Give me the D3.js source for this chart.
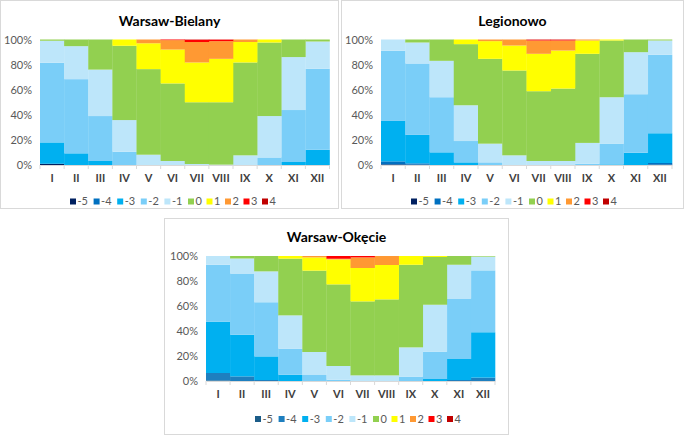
<!DOCTYPE html>
<html><head><meta charset="utf-8">
<script src="https://cdn.jsdelivr.net/npm/d3@7/dist/d3.min.js"></script>
<style>
html,body{margin:0;padding:0;background:#fff;}
svg{display:block;font-family:Lato,"Open Sans",sans-serif;}
</style></head><body>
<svg id="c" width="684" height="436"></svg>
<script>
const months = ["I","II","III","IV","V","VI","VII","VIII","IX","X","XI","XII"];
const classes = ["-5","-4","-3","-2","-1","0","1","2","3","4"];
const yTicks = [0,0.2,0.4,0.6,0.8,1];
const colorsA = ["#002060","#0070C0","#00B0F0","#7ACEF8","#BDE6FA","#92D050","#FFFF00","#FF9933","#FF0000","#C00000"];
const colorsB = ["#1B5C88","#1E7FBF","#00B0F0","#7ACEF8","#BDE6FA","#92D050","#FFFF00","#FF9933","#FF0000","#C00000"];
// rows: months, columns: classes -5..4 (percent)
const bielany = [
 [1,0,17,63.5,17.5,1,0,0,0,0],
 [0,0,9.3,59.1,26.3,5.3,0,0,0,0],
 [0,0,3.2,35.8,37,24,0,0,0,0],
 [0,0,0,10.6,25.2,59.2,5,0,0,0],
 [0,0,0,0,8.2,68.2,20.6,3,0,0],
 [0,0,0,0,3.2,61.8,27,7.5,0.5,0],
 [0,0,0,0,0.8,49.2,31.7,16.3,1.8,0.2],
 [0,0,0,0,0.3,49.7,34.6,14.1,1.2,0.1],
 [0,0,0,0,7.7,74,16.3,2,0,0],
 [0,0,0,6,33,58.6,2.4,0,0,0],
 [0,0,2.4,41.4,42.2,14,0,0,0,0],
 [0,0,12.2,64.5,21.7,1.6,0,0,0,0]
];
const legionowo = [
 [0.5,2.4,32.2,55.9,9,0,0,0,0,0],
 [0.3,1,22.7,56.9,16.7,2.4,0,0,0,0],
 [0,0,10.1,43.9,29,17,0,0,0,0],
 [0,0,2.1,17,28.5,48.7,3.7,0,0,0],
 [0,0,0,2.1,14.9,67.6,14.1,1.3,0,0],
 [0,0,0,0,7.7,67.6,19.9,4.8,0,0],
 [0,0,0,0,3.2,55.6,29.8,10.6,0.6,0.2],
 [0,0,0,0,3.2,57.7,30.3,8,0.6,0.2],
 [0,0,0,1,16.6,71,10.6,0.8,0,0],
 [0,0,0.5,16.3,37.2,45.2,0.8,0,0,0],
 [0,0,9.8,46.6,33.5,10.1,0,0,0,0],
 [0.3,1.3,23.7,62.5,11.4,0.8,0,0,0,0]
];
const okecie = [
 [0.5,5.9,41.1,45.5,7,0,0,0,0,0],
 [0,3.7,33.3,49,12,2,0,0,0,0],
 [0,0.8,18.9,43.3,24.7,12.3,0,0,0,0],
 [0,0,5,20.9,26.6,45.4,2.1,0,0,0],
 [0,0,0,4.8,18.4,65.1,10.6,1.1,0,0],
 [0,0,0,1,11,65.3,20,0.5,2.2,0],
 [0,0,0,0,4.5,59.2,26.7,8.5,1.1,0],
 [0,0,0,0,4.5,60.8,27.5,7.2,0,0],
 [0,0,0,3.5,23.4,66.1,7,0,0,0],
 [0,0,1.6,21.9,37.5,38.2,0.8,0,0,0],
 [0,0.8,16.8,48.4,27,7,0,0,0,0],
 [0,2.7,36.3,49.5,11,0.5,0,0,0,0]
];

const svg = d3.select("#c");
svg.append("rect").attr("width",684).attr("height",436).attr("fill","#fff");

const panels = [
 {title:"Warsaw-Bielany", data:bielany, colors:colorsA, box:[0.5,0.5,338,208], plot:[40,39.5,329.5,165], legendX:70, legendY:201.5},
 {title:"Legionowo", data:legionowo, colors:colorsA, box:[341.5,0.5,342,208], plot:[381,39.5,672,165], legendX:411, legendY:201.5},
 {title:"Warsaw-Okęcie", data:okecie, colors:colorsB, box:[164.5,218.5,344,216], plot:[206,256,495,381], legendX:255, legendY:419}
];

panels.forEach(p => {
  const g = svg.append("g");
  g.append("rect").attr("x",p.box[0]).attr("y",p.box[1]).attr("width",p.box[2]).attr("height",p.box[3])
    .attr("fill","#fff").attr("stroke","#D9D9D9").attr("stroke-width",1);
  const [x0,y0,x1,y1] = p.plot;
  const rows = p.data.map((r,i)=>{const o={m:months[i]}; classes.forEach((c,j)=>o[c]=r[j]); return o;});
  const stack = d3.stack().keys(classes).offset(d3.stackOffsetExpand)(rows);
  const x = d3.scaleBand().domain(months).range([x0,x1]).padding(0);
  const y = d3.scaleLinear().domain([0,1]).range([y1,y0]);
  const color = d3.scaleOrdinal().domain(classes).range(p.colors);
  g.append("g").selectAll("g").data(stack).join("g").attr("fill",d=>color(d.key))
    .selectAll("rect").data(d=>d).join("rect")
    .attr("x",d=>x(d.data.m)).attr("width",x.bandwidth()+0.3)
    .attr("y",d=>y(d[1])).attr("height",d=>Math.max(0,y(d[0])-y(d[1])));
  // y axis
  const ya = g.append("g").attr("transform",`translate(${x0},0)`)
    .call(d3.axisLeft(y).tickValues(yTicks).tickFormat(d3.format(".0%")).tickSize(0).tickPadding(8));
  ya.select(".domain").remove();
  ya.selectAll("text").attr("fill","#595959").style("font-size","11px").style("font-family","Lato,'Open Sans',sans-serif");
  // x axis
  const xa = g.append("g").attr("transform",`translate(0,${y1})`)
    .call(d3.axisBottom(x).tickSize(0).tickPadding(9));
  xa.select(".domain").attr("stroke","#D9D9D9");
  xa.selectAll("text").attr("fill","#404040").style("font-size","11px").style("font-weight","bold").style("font-family","Lato,'Open Sans',sans-serif");
  // boundary ticks
  const bounds = months.map(m=>x(m)).concat([x1]);
  g.append("g").selectAll("line").data(bounds).join("line")
    .attr("x1",d=>d).attr("x2",d=>d).attr("y1",y1).attr("y2",y1+4).attr("stroke","#D9D9D9");
  // title
  g.append("text").attr("x",(p.box[0]+p.box[0]+p.box[2])/2).attr("y",p.plot[1]-14)
    .attr("text-anchor","middle").attr("fill","#000").style("font-size","14px").style("font-weight","bold").text(p.title);
  // legend
  let lx = p.legendX;
  const lg = g.append("g");
  classes.forEach((c,i)=>{
    lg.append("rect").attr("x",lx).attr("y",p.legendY-3).attr("width",6).attr("height",6).attr("fill",p.colors[i]);
    lg.append("text").attr("x",lx+7.5).attr("y",p.legendY).attr("dy","0.35em").attr("fill","#595959")
      .style("font-size","11px").text(c);
    lx += 13.4 + 5.1 * c.length;
  });
});
</script>
</body></html>
